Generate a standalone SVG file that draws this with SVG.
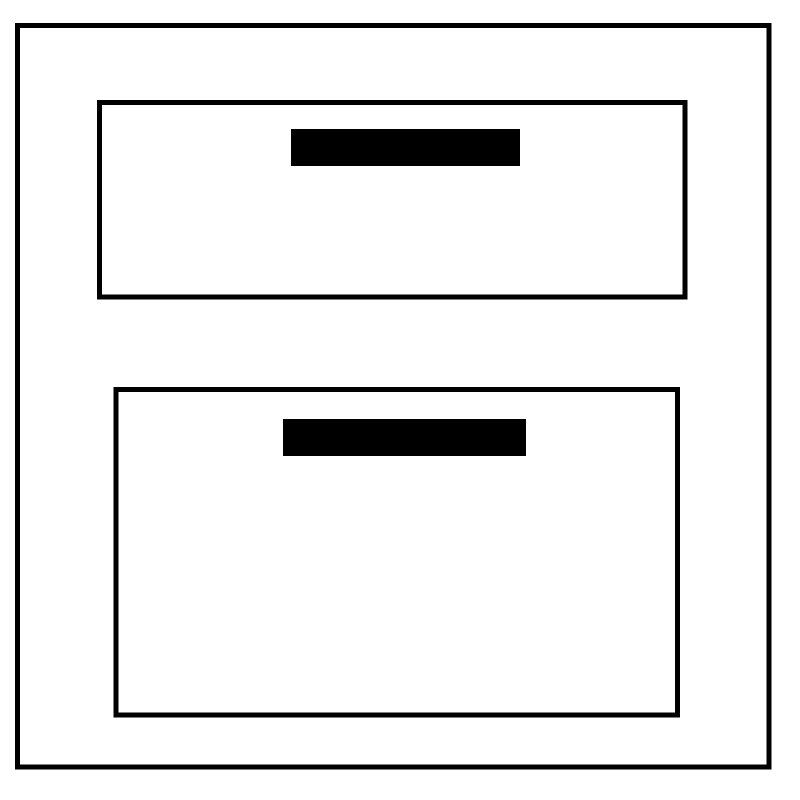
<svg xmlns="http://www.w3.org/2000/svg" width="800" height="800" viewBox="0 0 800 800">
<style>
.box{fill:none;stroke:#000;stroke-width:5}
.bar{fill:#000}
</style>
<rect width="800" height="800" fill="#fff"/>
<g id="outer"><rect class="box" x="17.5" y="25.5" width="751.5" height="741.5"/></g>
<g id="top"><rect class="box" x="99.5" y="102.5" width="585.5" height="194.5"/><rect class="bar" x="291" y="129" width="229" height="37"/></g>
<g id="bottom"><rect class="box" x="116" y="389.5" width="561.5" height="325.5"/><rect class="bar" x="283" y="419" width="243" height="37"/></g>
<g id="connectors"></g>
</svg>
